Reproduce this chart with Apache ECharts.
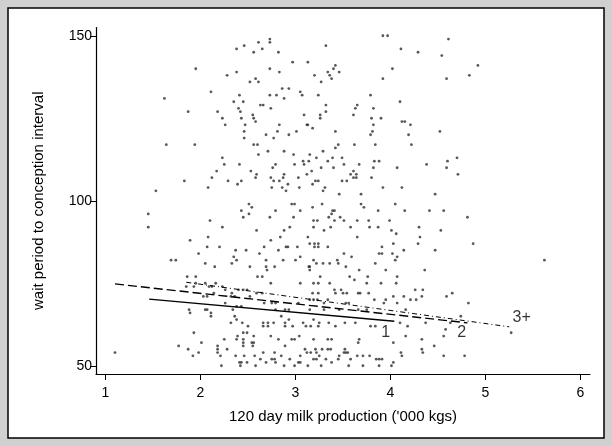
<!DOCTYPE html>
<html><head><meta charset="utf-8">
<script src="https://cdn.jsdelivr.net/npm/echarts@6/dist/echarts.min.js"></script>
<style>html,body{margin:0;padding:0;background:#d0d0d0}#c{width:612px;height:446px}</style>
</head><body><div id="c"></div>
<script>
const xTicks = [1, 2, 3, 4, 5, 6];
const yTicks = [50, 100, 150];
const xTitle = "120 day milk production ('000 kgs)";
const yTitle = "wait period to conception interval";

// [milk production ('000 kg), wait period (days)]
const herdPoints = [
[2.46,147],[2.38,146],[1.95,140],[2.28,138],[2.38,139],[2.11,133],[2.41,132],[1.62,131],[2.35,130],[2.45,130],[2.40,128],[1.87,127],[2.18,127],[2.42,127],[2.23,125],[2.43,125],[2.26,123],[2.46,121],[2.46,119],[1.64,117],[1.94,117],[2.23,113],[2.25,111],[2.41,111],[2.17,109],[2.12,107],[1.83,106],[2.29,106],[2.43,106],[2.39,105],[2.08,104],[1.53,103],
[3.92,150],[3.97,150],[2.73,149],[2.73,148],[2.61,148],[3.32,147],[2.65,146],[2.56,145],[2.82,145],[2.97,142],[3.13,142],[3.42,141],[2.73,140],[3.40,140],[2.83,139],[3.34,139],[3.46,139],[3.20,138],[3.36,138],[2.58,137],[3.38,137],[3.92,137],[2.52,136],[2.61,136],[3.27,136],[2.86,134],[2.93,134],[3.05,133],[2.73,132],[2.80,132],[3.07,132],[3.24,132],[3.79,132],[2.88,131],[2.63,129],[2.66,129],[3.32,129],[3.65,129],[2.74,128],[3.63,128],[3.82,128],[3.32,127],[2.55,126],[3.09,126],[3.26,126],[3.61,126],[2.56,125],[3.26,125],[3.80,125],[3.90,125],[2.58,124],[2.47,123],[2.83,123],[3.12,123],[3.13,123],[3.82,123],[3.18,122],[2.81,121],[3.01,121],[3.42,121],[3.81,121],[2.69,120],[2.93,120],[3.79,120],[2.77,119],[2.56,117],[2.60,117],[3.45,117],[3.62,117],[3.84,117],[3.42,116],[2.71,115],[2.88,115],[3.29,115],[2.61,114],[2.98,114],[3.15,114],[3.22,113],[3.39,113],[3.49,113],[3.08,112],[3.14,112],[3.34,112],[3.83,112],[3.88,112],[2.79,111],[2.99,111],[3.09,111],[3.51,111],[3.67,111],[2.76,110],[3.27,110],[3.40,110],[3.82,110],[2.53,109],[3.17,109],[3.61,109],[2.59,108],[2.88,108],[3.12,108],[3.58,108],[3.64,108],[2.58,107],[2.74,107],[2.87,107],[3.03,107],[3.61,107],[3.64,107],[3.80,107],[2.77,106],[2.83,106],[3.21,106],[3.24,106],[3.49,106],[3.54,106],[2.92,105],[3.18,105],[2.75,104],[2.86,104],[3.04,104],[3.31,104],[3.92,104],[2.90,103],[3.29,103],[3.46,102],[3.69,102],
[4.61,149],[4.11,146],[4.29,145],[4.54,144],[4.92,141],[4.02,140],[4.83,138],[4.59,137],[4.10,130],[4.12,124],[4.15,124],[4.21,123],[4.52,121],[4.19,120],[4.22,117],[4.70,113],[4.60,112],[4.38,111],[4.07,110],[4.59,110],[4.71,108],[4.12,104],[4.47,102],
[2.43,97],[1.45,96],[2.45,95],[2.10,94],[1.45,92],[2.23,92],[1.89,88],[2.08,89],[2.07,86],[2.20,86],[2.37,85],[1.98,84],[2.35,83],[2.38,82],[1.69,82],[1.74,82],[2.05,81],[2.15,80],[2.33,81],[1.86,77],[1.95,77],[1.85,74],[1.93,74],[1.95,75],[2.05,75],[2.12,74],[2.16,75],[2.23,74],[2.26,73],[2.40,73],[2.45,73],[2.09,74],[2.03,71],[2.07,71],[2.14,72],[2.33,72],[2.32,71],[2.36,71],[2.26,69],[2.38,68],[2.43,68],[1.88,67],[1.89,66],[2.05,67],[2.07,67],[2.34,67],[2.11,66],[2.11,65],[2.36,65],[2.32,63],[2.44,63],[2.38,64],[1.93,60],[2.01,57],[2.25,58],[2.38,58],[2.45,58],[2.39,59],[1.77,56],[1.87,55],[1.98,54],[2.18,56],[2.18,55],[2.18,54],[2.28,55],[2.45,56],[1.10,54],[1.92,53],[2.21,53],[2.37,53],[2.41,51],[2.43,51],[2.22,50],[2.42,50],
[2.51,99],[2.96,99],[2.99,99],[3.28,99],[2.54,98],[2.79,97],[3.05,97],[3.39,97],[3.18,98],[3.69,99],[3.72,98],[3.41,97],[3.87,97],[2.51,96],[2.73,95],[2.98,95],[3.35,95],[3.38,96],[3.47,95],[3.19,94],[3.23,94],[3.41,94],[3.51,94],[3.65,94],[3.77,94],[2.59,91],[2.94,92],[2.88,91],[3.19,92],[3.30,91],[3.37,92],[3.58,92],[3.78,92],[3.87,92],[2.84,89],[2.74,88],[3.13,89],[3.65,89],[2.67,86],[2.90,86],[2.92,86],[3.02,86],[3.15,87],[3.20,87],[3.24,87],[3.20,86],[3.24,86],[3.34,86],[2.48,85],[2.82,85],[3.91,86],[2.62,84],[3.51,84],[3.88,84],[3.91,84],[2.69,82],[2.87,82],[3.05,83],[3.00,82],[3.19,82],[3.44,82],[3.59,83],[2.69,80],[2.78,80],[3.14,80],[3.15,80],[3.22,81],[3.29,81],[3.36,81],[3.45,81],[2.52,80],[3.53,80],[3.84,81],[2.70,79],[3.15,79],[3.67,79],[3.95,79],[2.60,77],[2.65,77],[3.26,77],[3.57,77],[3.76,77],[2.74,75],[3.05,75],[3.19,75],[3.24,75],[3.36,75],[3.62,76],[3.75,75],[3.90,75],[2.49,73],[2.59,72],[2.65,72],[3.24,72],[3.18,72],[3.41,73],[3.42,72],[3.50,72],[3.54,72],[3.48,73],[3.66,72],[3.68,72],[3.77,72],[2.52,71],[2.75,69],[2.79,69],[3.03,69],[3.15,70],[3.19,70],[3.23,70],[3.30,69],[3.34,70],[3.53,69],[3.56,69],[3.83,70],[3.93,69],[2.67,69],[2.89,67],[2.93,67],[2.79,67],[3.15,67],[3.30,67],[3.46,67],[3.66,67],[3.75,67],[2.66,63],[2.71,63],[2.77,63],[2.89,63],[3.08,63],[3.25,63],[3.35,63],[3.52,63],[3.63,63],[2.85,65],[2.93,64],[3.19,64],[2.50,62],[2.66,62],[2.71,62],[2.89,62],[2.97,62],[3.11,62],[3.16,62],[3.24,62],[3.42,62],[3.79,62],[3.84,62],[2.45,60],[2.56,59],[2.49,60],[2.74,59],[3.04,59],[3.19,58],[2.82,58],[2.96,58],[2.99,58],[2.45,57],[2.54,57],[2.56,57],[3.67,58],[3.66,57],[2.55,56],[2.89,56],[3.34,58],[3.38,58],[2.66,54],[2.78,54],[3.10,55],[3.21,55],[3.28,55],[3.34,55],[3.37,55],[3.52,55],[3.12,54],[3.16,54],[3.22,54],[3.51,54],[3.53,54],[3.55,54],[2.46,53],[2.57,53],[2.85,53],[3.05,53],[3.25,53],[3.46,53],[3.65,53],[3.71,53],[3.78,53],[2.63,52],[2.75,52],[2.78,52],[2.94,52],[3.19,52],[3.22,52],[3.32,52],[3.45,52],[3.58,52],[3.85,52],[3.88,52],[3.91,52],[2.49,51],[2.58,50],[2.69,51],[2.79,51],[2.88,50],[3.03,51],[3.05,51],[2.99,50],[3.13,50],[3.27,50],[3.38,51],[3.56,50],[3.71,50],[3.88,50],
[4.05,99],[4.15,97],[4.41,97],[4.56,97],[4.81,95],[3.99,94],[4.30,92],[4.53,91],[4.01,91],[4.06,90],[4.31,89],[4.03,87],[4.29,87],[4.87,87],[4.14,85],[4.47,85],[4.02,84],[4.07,83],[4.05,82],[5.62,82],[4.36,79],[4.07,77],[4.06,75],[4.26,73],[4.34,73],[4.03,71],[4.14,71],[4.21,70],[4.27,70],[4.33,71],[4.59,71],[4.65,72],[3.95,70],[4.07,69],[4.82,69],[4.16,67],[4.74,65],[4.10,63],[4.18,62],[4.37,63],[4.63,63],[4.58,61],[4.16,59],[4.33,58],[4.56,59],[4.03,57],[4.46,56],[4.33,55],[4.34,54],[4.11,54],[4.12,53],[4.56,53],[4.78,53],[4.03,51],[4.01,50],[5.27,60]
];

// fitted lines by parity
const fitParity1 = [[1.46, 70.2], [4.04, 63.5]];
const fitParity2 = [[1.10, 74.8], [4.81, 63.0]];
const fitParity3 = [[1.85, 75.3], [5.25, 61.8]];
const lineLabelText = ['1', '2', '3+'];
const lineLabelPos = [[3.95, 60.0], [4.75, 60.0], [5.38, 64.5]];

const FONT = 'Liberation Sans, Arial, sans-serif';
const chart = echarts.init(document.getElementById('c'), null, {renderer: 'canvas'});

chart.setOption({
  backgroundColor: '#d0d0d0',
  animation: false,
  graphic: [{
    type: 'rect', z: -100, silent: true,
    shape: {x: 8, y: 8, width: 596, height: 430},
    style: {fill: '#ffffff', stroke: '#000000', lineWidth: 1.5}
  }],
  grid: {left: 96, right: 22, top: 27.5, bottom: 72},
  xAxis: {
    type: 'value', min: 0.9, max: 6.1,
    name: xTitle, nameLocation: 'middle', nameGap: 35,
    nameTextStyle: {color: '#000', fontSize: 15, fontFamily: FONT},
    axisLine: {show: true, onZero: false, lineStyle: {color: '#000', width: 1.2}},
    axisTick: {show: true, length: 6, customValues: xTicks, lineStyle: {color: '#000', width: 1}},
    axisLabel: {show: true, customValues: xTicks, margin: 12, color: '#000', fontSize: 14, fontFamily: FONT},
    splitLine: {show: false}
  },
  yAxis: {
    type: 'value', min: 47.5, max: 152.5,
    name: yTitle, nameLocation: 'middle', nameGap: 50, nameRotate: 90,
    nameTextStyle: {color: '#000', fontSize: 15, fontFamily: FONT},
    axisLine: {show: true, onZero: false, lineStyle: {color: '#000', width: 1.2}},
    axisTick: {show: true, length: 6, customValues: yTicks, lineStyle: {color: '#000', width: 1}},
    axisLabel: {show: true, customValues: yTicks, margin: 4, color: '#000', fontSize: 14, fontFamily: FONT},
    splitLine: {show: false}
  },
  series: [
    {
      type: 'scatter', data: herdPoints, symbol: 'circle', symbolSize: 2.8,
      itemStyle: {color: '#2e2e2e'}, z: 2
    },
    {
      type: 'line', data: fitParity1, showSymbol: false, symbol: 'none',
      lineStyle: {color: '#000', width: 1.4, type: 'solid'}, z: 3
    },
    {
      type: 'line', data: fitParity2, showSymbol: false, symbol: 'none',
      lineStyle: {color: '#000', width: 1.4, type: [9, 4]}, z: 3
    },
    {
      type: 'line', data: fitParity3, showSymbol: false, symbol: 'none',
      lineStyle: {color: '#000', width: 1, type: [5, 3, 1, 3]}, z: 3
    },
    {
      type: 'scatter', symbolSize: 1, itemStyle: {color: 'rgba(0,0,0,0)'}, silent: true, z: 4,
      data: lineLabelPos.map((p, i) => ({value: p, name: lineLabelText[i]})),
      label: {show: true, position: 'inside', formatter: '{b}', color: '#000', fontSize: 16, fontFamily: FONT}
    }
  ]
});
</script>
</body></html>
